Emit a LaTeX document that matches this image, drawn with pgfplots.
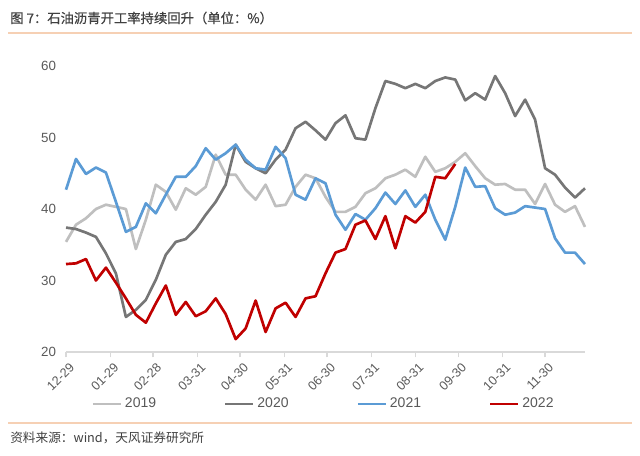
\documentclass[border=0pt]{standalone}
\usepackage{pgfplots}
\usepackage{pgfplotstable}
\pgfplotsset{compat=1.18}
\usepackage{fontspec}
\setmainfont{Liberation Sans}
\newfontfamily\cjk{Noto Sans CJK SC}
\newfontfamily\cjkt[FakeBold=0.6]{Noto Sans CJK SC}
\definecolor{c19}{RGB}{191,191,191}
\definecolor{c20}{RGB}{118,118,118}
\definecolor{c21}{RGB}{91,155,213}
\definecolor{c22}{RGB}{192,0,0}
\definecolor{txt}{RGB}{89,89,89}
\definecolor{ttl}{RGB}{64,64,64}
\definecolor{sep}{RGB}{246,208,180}
\definecolor{axc}{RGB}{217,217,217}

\pgfplotstableread{
x a b c
0 35.4 37.4 42.7
7 37.8 37.2 47.0
14 38.7 36.7 44.9
21 40.0 36.1 45.8
28 40.6 33.8 45.1
35 40.3 31.0 41.0
42 40.0 24.9 36.8
49 34.4 25.9 37.5
56 38.5 27.3 40.8
63 43.4 30.1 39.4
70 42.4 33.6 42.0
77 39.9 35.4 44.5
84 42.9 35.8 44.5
91 42.0 37.2 46.0
98 43.1 39.2 48.5
105 47.6 41.0 46.9
112 44.8 43.4 47.8
119 44.8 49.0 49.0
126 42.7 46.6 46.9
133 41.3 45.7 45.7
140 43.4 45.0 45.5
147 40.4 46.9 48.7
154 40.6 48.3 47.1
161 43.1 51.3 42.0
168 44.8 52.2 41.3
175 44.3 51.0 44.3
182 41.7 49.7 43.6
189 39.6 52.0 39.2
196 39.6 53.1 37.1
203 40.3 49.9 39.3
210 42.2 49.7 38.5
217 42.9 54.1 40.1
224 44.3 57.9 42.3
231 44.8 57.5 40.7
238 45.5 56.9 42.6
245 44.5 57.5 40.3
252 47.3 56.9 42.0
259 45.2 57.9 38.5
266 45.7 58.4 35.7
273 46.6 58.1 40.3
280 47.8 55.2 45.8
287 46.0 56.2 43.1
294 44.3 55.3 43.2
301 43.4 58.6 40.1
308 43.5 56.2 39.2
315 42.7 53.0 39.5
322 42.7 55.3 40.4
329 40.7 52.5 40.2
336 43.5 45.7 40.0
343 40.6 44.8 35.9
350 39.6 43.0 33.9
357 40.4 41.6 33.9
364 37.5 42.9 32.3
}\datatable

\pgfplotstableread{
x d
0 32.3
7 32.4
14 33.0
21 30.0
28 31.8
35 29.7
42 27.5
49 25.2
56 24.1
63 26.8
70 29.3
77 25.2
84 27.0
91 25.0
98 25.7
105 27.5
112 25.3
119 21.8
126 23.3
133 27.2
140 22.8
147 26.1
154 26.9
161 24.9
168 27.5
175 27.8
182 31.0
189 33.9
196 34.4
203 37.8
210 38.4
217 35.8
224 39.0
231 34.5
238 39.0
245 38.1
252 39.6
259 44.5
266 44.3
273 46.3
}\redtable

\begin{document}
\begin{tikzpicture}
\path[use as bounding box] (0pt,0pt) rectangle (480pt,341.25pt);
\node[anchor=west, text=ttl, inner sep=0pt] at (7.5pt,327.75pt) {\cjkt\fontsize{10}{12}\selectfont 图 7：石油沥青开工率持续回升（单位：\%）};
\draw[sep, line width=1.2pt] (6pt,316.5pt) -- (474pt,316.5pt);
\draw[sep, line width=1.2pt] (6pt,24pt) -- (474pt,24pt);
\node[anchor=west, text=ttl, inner sep=0pt] at (7.5pt,12.75pt) {\cjk\fontsize{9.5}{11}\selectfont 资料来源：wind，天风证券研究所};
\begin{axis}[
  at={(49.5pt,77.25pt)}, anchor=south west,
  scale only axis, width=389.25pt, height=214.5pt,
  xmin=0, xmax=364, ymin=20, ymax=60,
  axis lines*=left,
  x axis line style={draw=axc, line width=1.2pt},
  y axis line style={draw=none},
  xtick={0,31,61,92,122,153,183,214,245,275,306,336},
  xticklabels={12-29,01-29,02-28,03-31,04-30,05-31,06-30,07-31,08-31,09-30,10-31,11-30},
  xtick align=outside,
  major tick length=4pt,
  xtick style={draw=axc, line width=0.9pt},
  ytick={20,30,40,50,60},
  ytick style={draw=none},
  /pgf/number format/assume math mode=true,
  x tick label style={rotate=45, anchor=north east, font=\fontsize{9.5}{11}\selectfont, text=txt, inner sep=1pt, yshift=-3pt},
  y tick label style={font=\fontsize{10}{12}\selectfont, text=txt, xshift=-4pt},
  legend columns=4,
  legend style={at={(0.497,-0.182)}, anchor=center, draw=none, fill=none,
    font=\fontsize{10.5}{12}\selectfont, text=txt,
    /tikz/every even column/.append style={column sep=49pt}},
  legend image code/.code={\draw[#1] (0pt,0pt) -- (21pt,0pt);},
  every axis plot/.append style={line width=2pt, line join=round},
  clip=false,
]
\addplot[c19] table[x=x, y=a] {\datatable};
\addlegendentry{2019}
\addplot[c20] table[x=x, y=b] {\datatable};
\addlegendentry{2020}
\addplot[c21] table[x=x, y=c] {\datatable};
\addlegendentry{2021}
\addplot[c22] table[x=x, y=d] {\redtable};
\addlegendentry{2022}
\end{axis}
\end{tikzpicture}
\end{document}
